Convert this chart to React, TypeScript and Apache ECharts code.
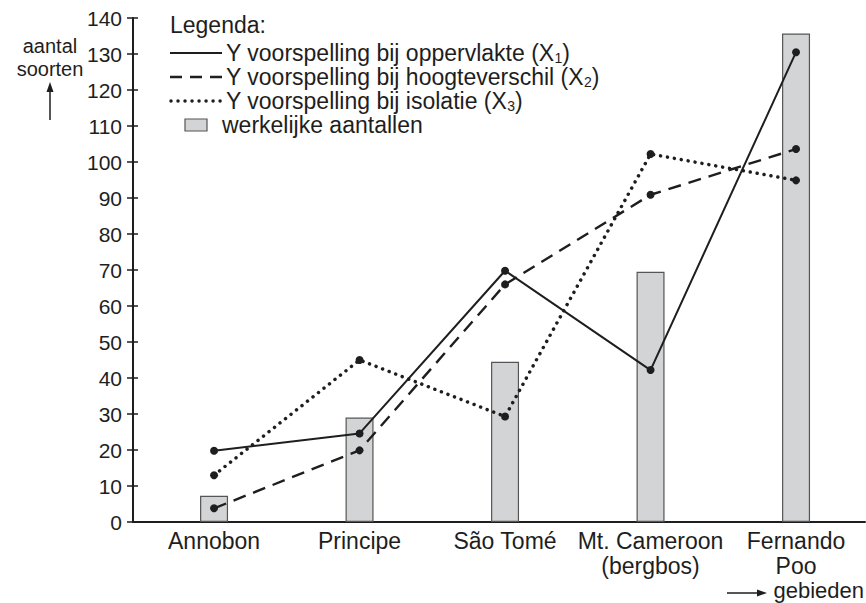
import React, { useEffect, useRef } from "react";
import * as echarts from "echarts";

const categories = ["Annobon", "Principe", "São Tomé", "Mt. Cameroon\n(bergbos)", "Fernando\nPoo"];
const actualCounts = [7.3, 29, 44.5, 69.5, 135.7];
const predArea = [19.8, 24.6, 69.8, 42.2, 130.5];
const predHeight = [3.8, 19.9, 66, 90.9, 103.6];
const predIsolation = [13, 45, 29.3, 102.2, 94.9];
const yTicks = { min: 0, max: 140, interval: 10 };

const FONT = "'Liberation Sans', Arial, Helvetica, sans-serif";
const INK = "#1e1e1e";
const FS = 23;

export default function App() {
  const ref = useRef<HTMLDivElement>(null);
  useEffect(() => {
    document.body.style.margin = "0";
    const chart = echarts.init(ref.current!, null, { renderer: "svg" });
    const idx = categories.map((_, i) => i);
    const toPts = (arr: number[]) => arr.map((v, i) => [i, v]);
    const lineBase = {
      type: "line",
      symbol: "circle",
      symbolSize: 8,
      itemStyle: { color: INK },
      z: 3,
      silent: true,
    };
    const subRich = {
      sub: { fontSize: 14, fontFamily: FONT, color: INK, verticalAlign: "bottom", padding: [6, 0, 0, 0] },
    };
    const legendText = (y: number, x: number, t: string) => ({
      type: "text",
      x,
      y,
      style: {
        text: t,
        font: `${FS}px ${FONT}`,
        fill: INK,
        verticalAlign: "middle",
        rich: subRich,
      },
    });
    chart.setOption({
      animation: false,
      textStyle: { fontFamily: FONT, color: INK },
      grid: { left: 133, right: 1, top: 18, bottom: 81, containLabel: false },
      xAxis: {
        type: "value",
        min: -0.557,
        max: 4.474,
        axisLine: { show: true, onZero: false, lineStyle: { color: INK, width: 2 } },
        axisTick: { show: false },
        splitLine: { show: false },
        axisLabel: {
          customValues: idx,
          formatter: (v: number) => categories[Math.round(v)] ?? "",
          fontSize: FS,
          lineHeight: 25,
          color: INK,
          margin: 6,
          fontFamily: FONT,
        },
      },
      yAxis: [
        {
          type: "value",
          ...yTicks,
          axisLine: { show: true, onZero: false, lineStyle: { color: INK, width: 2 } },
          axisTick: { show: true, inside: false, length: 6, lineStyle: { color: INK, width: 1.5 } },
          splitLine: { show: false },
          axisLabel: { fontSize: 21, color: INK, margin: 11, fontFamily: FONT },
        },
        {
          type: "value",
          ...yTicks,
          position: "left",
          axisLine: { show: false, onZero: false },
          axisTick: { show: true, inside: true, length: 5, lineStyle: { color: INK, width: 1.5 } },
          splitLine: { show: false },
          axisLabel: { show: false },
        },
      ],
      series: [
        {
          name: "werkelijke aantallen",
          type: "bar",
          data: toPts(actualCounts),
          barWidth: 28,
          itemStyle: { color: "#d3d4d6", borderColor: "#555", borderWidth: 1.2 },
          z: 1,
          silent: true,
        },
        {
          ...lineBase,
          name: "Y voorspelling bij oppervlakte (X1)",
          data: toPts(predArea),
          lineStyle: { color: INK, width: 2 },
        },
        {
          ...lineBase,
          name: "Y voorspelling bij hoogteverschil (X2)",
          data: toPts(predHeight),
          lineStyle: { color: INK, width: 2.4, type: [13, 8] },
        },
        {
          ...lineBase,
          name: "Y voorspelling bij isolatie (X3)",
          data: toPts(predIsolation),
          lineStyle: { color: INK, width: 3.5, type: [0.01, 7], cap: "round" },
        },
      ],
      graphic: [
        { type: "text", x: 170, y: 25, style: { text: "Legenda:", font: `${FS}px ${FONT}`, fill: INK, verticalAlign: "middle" } },
        { type: "line", shape: { x1: 170, y1: 53, x2: 222, y2: 53 }, style: { stroke: INK, lineWidth: 2 } },
        legendText(53, 226, "Y voorspelling bij oppervlakte (X{sub|1})"),
        { type: "line", shape: { x1: 170, y1: 77, x2: 222, y2: 77 }, style: { stroke: INK, lineWidth: 2.4, lineDash: [12, 8] } },
        legendText(77, 226, "Y voorspelling bij hoogteverschil (X{sub|2})"),
        { type: "line", shape: { x1: 171, y1: 101, x2: 222, y2: 101 }, style: { stroke: INK, lineWidth: 3.5, lineDash: [0.01, 7], lineCap: "round" } },
        legendText(101, 226, "Y voorspelling bij isolatie (X{sub|3})"),
        { type: "rect", shape: { x: 185, y: 119, width: 22, height: 12 }, style: { fill: "#d3d4d6", stroke: "#555", lineWidth: 1.2 } },
        legendText(125, 222, "werkelijke aantallen"),
        {
          type: "text",
          x: 50,
          y: 46,
          style: { text: "aantal", font: `20px ${FONT}`, fill: INK, align: "center", verticalAlign: "middle" },
        },
        {
          type: "text",
          x: 50,
          y: 69,
          style: { text: "soorten", font: `20px ${FONT}`, fill: INK, align: "center", verticalAlign: "middle" },
        },
        { type: "line", shape: { x1: 50, y1: 120, x2: 50, y2: 90 }, style: { stroke: INK, lineWidth: 1.5 } },
        { type: "polygon", shape: { points: [[50, 82], [46.5, 92], [53.5, 92]] }, style: { fill: INK } },
        { type: "line", shape: { x1: 727, y1: 593, x2: 758, y2: 593 }, style: { stroke: INK, lineWidth: 1.5 } },
        { type: "polygon", shape: { points: [[767, 593], [757, 589.5], [757, 596.5]] }, style: { fill: INK } },
        { type: "text", x: 864, y: 590, style: { text: "gebieden", font: `22px ${FONT}`, fill: INK, align: "right", verticalAlign: "middle" } },
      ],
    });
    return () => chart.dispose();
  }, []);
  return <div ref={ref} style={{ width: 866, height: 603 }} />;
}
